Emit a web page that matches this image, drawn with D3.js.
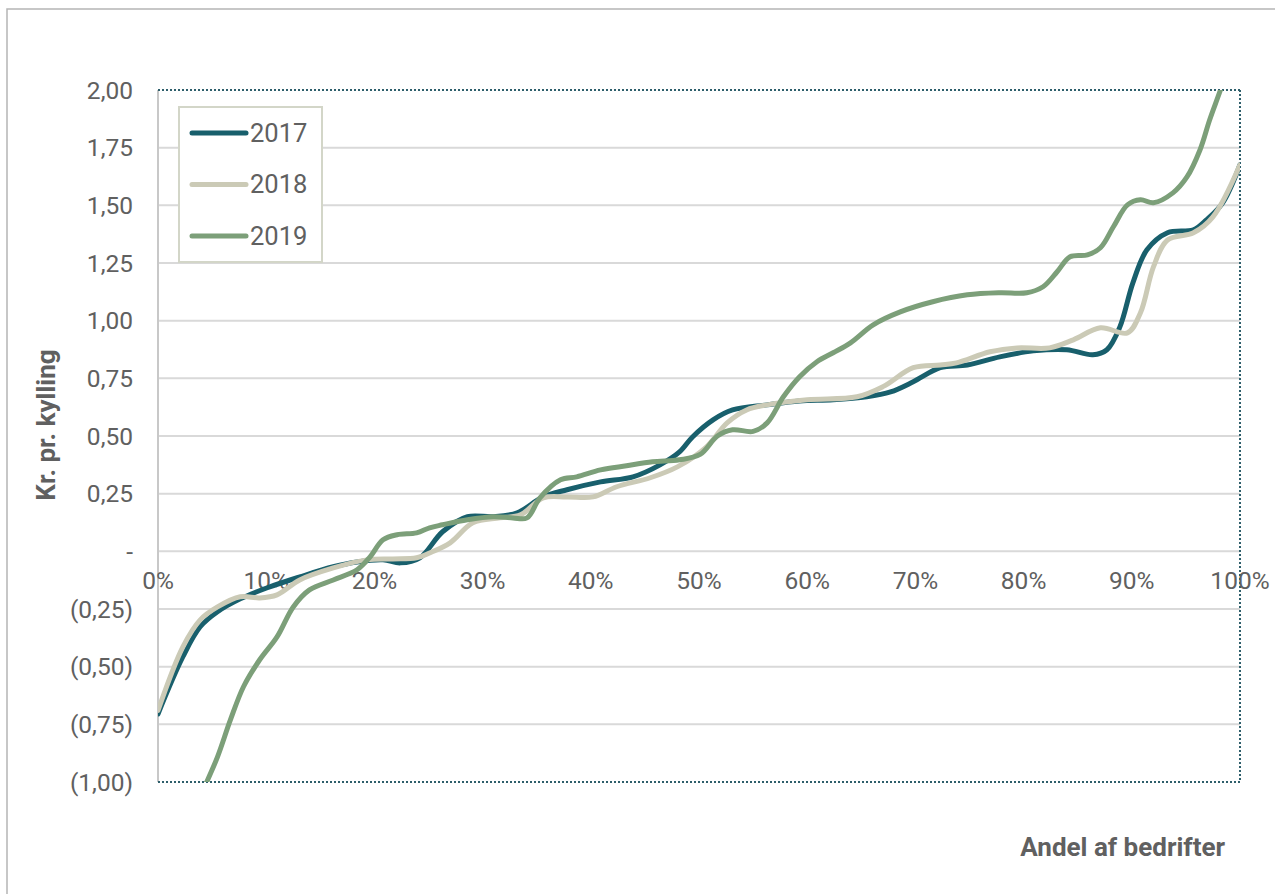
<!DOCTYPE html>
<html><head><meta charset="utf-8">
<script src="https://cdn.jsdelivr.net/npm/d3@7"></script>
<style>
html,body{margin:0;padding:0;background:#fff;}
svg{display:block;}
text{font-family:Roboto,"Open Sans",sans-serif;}
</style></head>
<body>
<svg id="chart" width="1275" height="894"></svg>
<script>
// ---- data ----
const seriesNames = ["2017", "2018", "2019"];
const seriesColors = ["#185f6c", "#cbcab6", "#7c9f79"];

const x2017 = [0, 2.3, 3.9, 5.5, 7.6, 10.1, 13.1, 16.2, 18.4, 20.8, 22.4, 24.2, 26.3, 28.6, 31.0, 33.2, 35.6, 37.8, 40.9, 43.9, 46.4, 48.2, 49.4, 51.3, 53.1, 56.3, 59.3, 62.4, 65.5, 67.7, 69.8, 72.3, 74.8, 77.8, 80.9, 84.0, 86.4, 87.7, 88.9, 90.1, 91.4, 93.3, 95.7, 96.9, 98.4, 100];
const y2017 = [-0.705, -0.457, -0.327, -0.262, -0.206, -0.158, -0.111, -0.067, -0.046, -0.037, -0.050, -0.028, 0.085, 0.150, 0.150, 0.167, 0.236, 0.267, 0.301, 0.323, 0.375, 0.431, 0.496, 0.570, 0.613, 0.635, 0.652, 0.657, 0.670, 0.691, 0.735, 0.796, 0.808, 0.843, 0.869, 0.874, 0.852, 0.874, 0.973, 1.164, 1.307, 1.381, 1.394, 1.437, 1.511, 1.676];

const x2018 = [0, 2.3, 3.9, 5.5, 7.6, 9.4, 11.0, 13.1, 16.2, 19.3, 21.7, 23.9, 25.1, 27.0, 29.1, 31.6, 33.5, 35.6, 37.8, 40.2, 42.4, 45.5, 48.0, 50.7, 52.6, 54.4, 56.3, 60.0, 64.6, 67.0, 69.8, 72.3, 73.8, 76.9, 79.4, 82.4, 84.6, 87.1, 89.6, 90.8, 92.0, 93.3, 95.7, 97.5, 100];
const y2018 = [-0.69, -0.414, -0.297, -0.241, -0.197, -0.202, -0.189, -0.124, -0.072, -0.037, -0.033, -0.028, -0.007, 0.037, 0.124, 0.145, 0.158, 0.232, 0.236, 0.236, 0.280, 0.319, 0.366, 0.453, 0.557, 0.613, 0.635, 0.657, 0.670, 0.714, 0.796, 0.808, 0.817, 0.865, 0.882, 0.882, 0.917, 0.969, 0.947, 1.034, 1.233, 1.350, 1.381, 1.450, 1.676];

const x2019 = [0, 2.0, 3.5, 4.5, 5.5, 6.7, 7.9, 9.4, 11.0, 12.5, 14.0, 16.2, 18.4, 19.6, 20.8, 22.1, 23.9, 25.1, 26.3, 28.6, 31.0, 32.8, 34.1, 35.3, 37.2, 38.7, 40.9, 43.3, 45.7, 48.2, 50.1, 51.7, 53.1, 55.0, 56.3, 57.8, 59.3, 60.9, 62.4, 64.0, 66.1, 68.6, 71.6, 74.8, 77.8, 80.3, 81.8, 83.1, 84.3, 85.9, 87.1, 88.3, 89.6, 90.8, 92.0, 93.8, 95.1, 96.3, 97.2, 98.2, 100];
const y2019 = [-1.60, -1.32, -1.10, -1.00, -0.891, -0.730, -0.587, -0.470, -0.371, -0.241, -0.167, -0.124, -0.080, -0.024, 0.050, 0.072, 0.080, 0.102, 0.115, 0.137, 0.150, 0.145, 0.145, 0.232, 0.310, 0.323, 0.353, 0.371, 0.388, 0.397, 0.420, 0.500, 0.527, 0.520, 0.557, 0.670, 0.757, 0.822, 0.861, 0.904, 0.982, 1.038, 1.082, 1.112, 1.121, 1.121, 1.147, 1.212, 1.277, 1.285, 1.316, 1.407, 1.502, 1.524, 1.511, 1.554, 1.623, 1.740, 1.871, 2.001, 2.25];

const xTicks = [0, 10, 20, 30, 40, 50, 60, 70, 80, 90, 100];
const yTicks = [-1, -0.75, -0.5, -0.25, 0, 0.25, 0.5, 0.75, 1, 1.25, 1.5, 1.75, 2];
const yTickLabels = ["(1,00)", "(0,75)", "(0,50)", "(0,25)", "-", "0,25", "0,50", "0,75", "1,00", "1,25", "1,50", "1,75", "2,00"];
const xTitle = "Andel af bedrifter";
const yTitle = "Kr. pr. kylling";

// ---- chart ----
const svg = d3.select("#chart");
const L = 158, R = 1240, T = 90, B = 782;
const x = d3.scaleLinear().domain([0, 100]).range([L, R]);
const y = d3.scaleLinear().domain([-1, 2]).range([B, T]);
const txt = "#606060";

// outer frame
svg.append("rect").attr("x", 7).attr("y", 9).attr("width", 1400).attr("height", 1000)
  .attr("fill", "none").attr("stroke", "#b5b5b5").attr("stroke-width", 1.5);

// gridlines
svg.append("g").selectAll("line").data(yTicks.filter(d => d > -1 && d < 2)).join("line")
  .attr("x1", L).attr("x2", R).attr("y1", d => y(d)).attr("y2", d => y(d))
  .attr("stroke", "#d9d9d9").attr("stroke-width", 2);

// left axis solid
svg.append("line").attr("x1", L).attr("x2", L).attr("y1", T).attr("y2", B)
  .attr("stroke", "#c8c8c8").attr("stroke-width", 2);

// dotted border top/right/bottom
const dot = {stroke: "#2e5f6b", "stroke-width": 2, "stroke-dasharray": "2,2"};
[[L, T, R, T], [R, T, R, B], [L, B, R, B]].forEach(c => {
  const ln = svg.append("line").attr("x1", c[0]).attr("y1", c[1]).attr("x2", c[2]).attr("y2", c[3]);
  Object.entries(dot).forEach(([k, v]) => ln.attr(k, v));
});

// y tick labels
svg.append("g").selectAll("text").data(yTicks).join("text")
  .attr("x", 133).attr("y", d => y(d)).attr("dy", "0.35em")
  .attr("text-anchor", "end").attr("font-size", 24.5).attr("fill", txt)
  .text((d, i) => yTickLabels[i]);

// x tick labels (below zero line)
svg.append("g").selectAll("text").data(xTicks).join("text")
  .attr("x", d => x(d)).attr("y", y(0) + 29).attr("dy", "0.35em")
  .attr("text-anchor", "middle").attr("font-size", 24.5).attr("fill", txt)
  .text(d => d + "%");

// clip
svg.append("clipPath").attr("id", "clip").append("rect")
  .attr("x", L).attr("y", T).attr("width", R - L).attr("height", B - T);

const line = d3.line().x(d => x(d[0])).y(d => y(d[1])).curve(d3.curveCatmullRom.alpha(0.5));
const allX = [x2017, x2018, x2019], allY = [y2017, y2018, y2019];
const g = svg.append("g").attr("clip-path", "url(#clip)");
seriesNames.forEach((n, i) => {
  const pts = allX[i].map((v, j) => [v, allY[i][j]]);
  g.append("path").datum(pts).attr("d", line).attr("fill", "none")
    .attr("stroke", seriesColors[i]).attr("stroke-width", 5)
    .attr("stroke-linecap", "round").attr("stroke-linejoin", "round");
});

// legend
const lg = svg.append("g");
lg.append("rect").attr("x", 179).attr("y", 107).attr("width", 143).attr("height", 155)
  .attr("fill", "#fff").attr("stroke", "#d3d6c8").attr("stroke-width", 2);
seriesNames.forEach((n, i) => {
  const yy = 133 + i * 51.5;
  lg.append("line").attr("x1", 192).attr("x2", 246).attr("y1", yy).attr("y2", yy)
    .attr("stroke", seriesColors[i]).attr("stroke-width", 5).attr("stroke-linecap", "round");
  lg.append("text").attr("x", 250).attr("y", yy).attr("dy", "0.35em")
    .attr("font-size", 25.5).attr("fill", txt).text(n);
});

// axis titles
svg.append("text").attr("transform", "translate(55,425) rotate(-90)")
  .attr("text-anchor", "middle").attr("font-size", 26).attr("font-weight", "bold")
  .attr("fill", txt).text(yTitle);
svg.append("text").attr("x", 1225).attr("y", 847).attr("dy", "0.35em")
  .attr("text-anchor", "end").attr("font-size", 26).attr("font-weight", "bold")
  .attr("fill", txt).text(xTitle);
</script>
</body></html>
